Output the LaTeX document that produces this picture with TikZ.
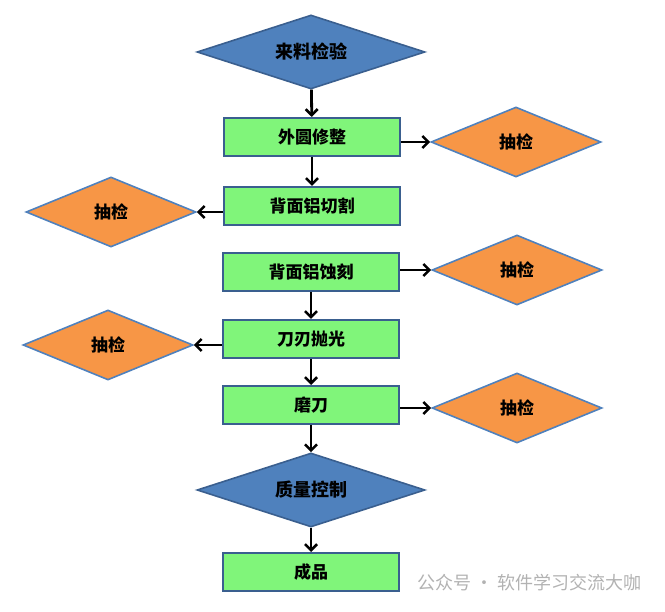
\documentclass[tikz,border=0pt]{standalone}
\usepackage{fontspec}
\newfontfamily\cjk{Noto Sans CJK SC}
\usetikzlibrary{positioning,arrows.meta,shapes.geometric}

\definecolor{stepblue}{HTML}{4F81BD}
\definecolor{stepedge}{HTML}{3A5F8F}
\definecolor{stepgreen}{HTML}{80F57A}
\definecolor{checkorange}{HTML}{F79646}

\tikzset{
	procbox/.style={draw=stepedge, line width=2pt, fill=stepgreen,
		minimum width=176pt, minimum height=38pt, inner sep=0pt,
		font=\cjk\bfseries\fontsize{17}{17}\selectfont},
	gate/.style={diamond, draw=stepedge, line width=1.6pt, fill=stepblue,
		aspect=3, inner sep=0pt, minimum width=228pt, minimum height=74pt,
		font=\cjk\bfseries\fontsize{18}{18}\selectfont},
	spot/.style={diamond, draw=stepblue, line width=1.6pt, fill=checkorange,
		aspect=3, inner sep=0pt, minimum width=170pt, minimum height=70pt,
		font=\cjk\bfseries\fontsize{17}{17}\selectfont},
	flow/.style={-{Straight Barb[length=6pt,width=12pt,line width=2.6pt]}, line width=2.8pt, black}
}

\begin{document}
\begin{tikzpicture}[x=1pt,y=-1pt]
	\useasboundingbox (0,0) rectangle (665,612);

	% main line
	\node[gate] (incoming) at (311,52) {来料检验};
	\node[procbox] (rim) at (312,137) {外圆修整};
	\node[procbox] (cut) at (312,206) {背面铝切割};
	\node[procbox] (etch) at (311,272) {背面铝蚀刻};
	\node[procbox] (polish) at (311,339) {刀刃抛光};
	\node[procbox] (grind) at (311,405) {磨刀};
	\node[gate] (quality) at (311,490) {质量控制};
	\node[procbox] (done) at (311,572) {成品};

	% sample checks
	\node[spot] (chkA) at (516,142) {抽检};
	\node[spot] (chkB) at (111,212) {抽检};
	\node[spot] (chkC) at (517,270) {抽检};
	\node[spot] (chkD) at (108,345) {抽检};
	\node[spot] (chkE) at (517,408) {抽检};

	\draw[flow] (incoming) -- (rim);
	\draw[flow] (rim) -- (cut);
	\draw[flow] (etch) -- (polish);
	\draw[flow] (polish) -- (grind);
	\draw[flow] (grind) -- (quality);
	\draw[flow] (quality) -- (done);

	\draw[flow] (rim.east |- chkA) -- (chkA);
	\draw[flow] (cut.west |- chkB) -- (chkB);
	\draw[flow] (etch.east |- chkC) -- (chkC);
	\draw[flow] (polish.west |- chkD) -- (chkD);
	\draw[flow] (grind.east |- chkE) -- (chkE);

	\node[anchor=west, text=black!30, font=\cjk\fontsize{18}{18}\selectfont] (mark) at (414,583) {公众号 · 软件学习交流大咖};

\end{tikzpicture}
\end{document}
